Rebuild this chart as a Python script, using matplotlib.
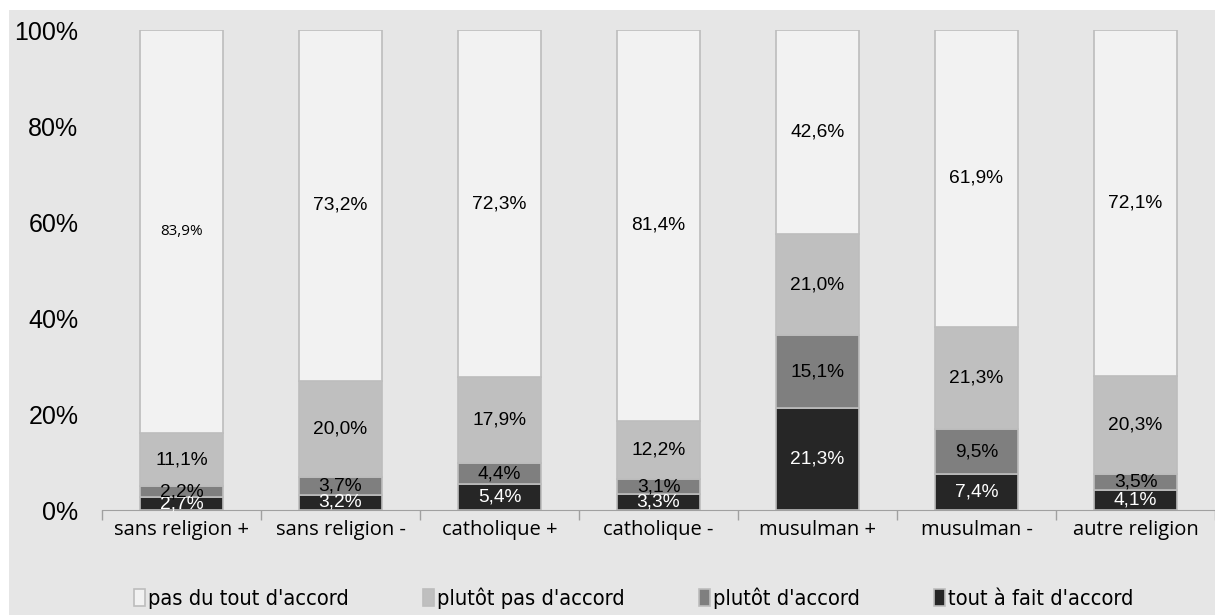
import numpy as np
import matplotlib.pyplot as plt
from matplotlib.patches import Rectangle

# donnees
groupes = ['sans religion +', 'sans religion -', 'catholique +', 'catholique -',
           'musulman +', 'musulman -', 'autre religion']
tout_a_fait = [2.7, 3.2, 5.4, 3.3, 21.3, 7.4, 4.1]
plutot_accord = [2.2, 3.7, 4.4, 3.1, 15.1, 9.5, 3.5]
plutot_pas = [11.1, 20.0, 17.9, 12.2, 21.0, 21.3, 20.3]
pas_du_tout = [83.9, 73.2, 72.3, 81.4, 42.6, 61.9, 72.1]

series = [
    ("tout à fait d'accord", tout_a_fait, '#262626', 'white'),
    ("plutôt d'accord", plutot_accord, '#7f7f7f', 'black'),
    ("plutôt pas d'accord", plutot_pas, '#bfbfbf', 'black'),
    ("pas du tout d'accord", pas_du_tout, '#f2f2f2', 'black'),
]

bg = '#e6e6e6'
fig = plt.figure(figsize=(12.15, 6.15), dpi=100, facecolor='white')
fig.patches.append(Rectangle((9 / 1215, 0), 1, 1 - 10 / 615, transform=fig.transFigure,
                             facecolor=bg, edgecolor='none', zorder=-10))
ax = fig.add_axes([102 / 1215, 1 - 510 / 615, 1 - 102 / 1215, 480 / 615])
ax.set_facecolor(bg)

x = np.arange(len(groupes))
bas = np.zeros(len(groupes))
handles = []
for nom, vals, couleur, txt in series:
    vals = np.array(vals)
    b = ax.bar(x, vals, bottom=bas, width=0.52, color=couleur, edgecolor='#bdbdbd',
               linewidth=1.2, label=nom)
    handles.append(b)
    for i, v in enumerate(vals):
        lab = f'{v:.1f}%'.replace('.', ',')
        if nom.startswith('pas') and i == 0:
            ax.text(x[i], bas[i] + v / 2, lab, ha='center', va='center', fontsize=11,
                    color=txt, family='Open Sans')
        else:
            ax.text(x[i], bas[i] + v / 2, lab, ha='center', va='center', fontsize=13.8,
                    color=txt, family='Liberation Sans')
    bas += vals

ax.set_xlim(-0.5, len(groupes) - 0.5)
ax.set_ylim(0, 100)
ax.set_yticks([0, 20, 40, 60, 80, 100])
ax.set_yticklabels(['0%', '20%', '40%', '60%', '80%', '100%'], family='Liberation Sans',
                   fontsize=18)
ax.tick_params(axis='y', length=0, pad=17)

ax.set_xticks(x)
ax.set_xticklabels(groupes, family='Open Sans', fontsize=14.5)
ax.tick_params(axis='x', length=0, pad=7)
ax.set_xticks(np.arange(len(groupes) + 1) - 0.5, minor=True)
ax.tick_params(axis='x', which='minor', length=7, color='#a0a0a0', width=1)

for s in ['top', 'right', 'left']:
    ax.spines[s].set_visible(False)
ax.spines['bottom'].set_color('#a0a0a0')

# legende
ordre = [3, 2, 1, 0]
leg = fig.legend([handles[i] for i in ordre], [series[i][0] for i in ordre],
                 loc='center', bbox_to_anchor=(634 / 1215, 1 - 598 / 615), ncol=4,
                 frameon=False, handlelength=0.5, handleheight=0.8, handletextpad=0.15,
                 columnspacing=3.4,
                 prop={'family': 'DejaVu Sans', 'stretch': 'condensed', 'size': 15.7})

fig.savefig('out.png', dpi=100, facecolor=fig.get_facecolor())
